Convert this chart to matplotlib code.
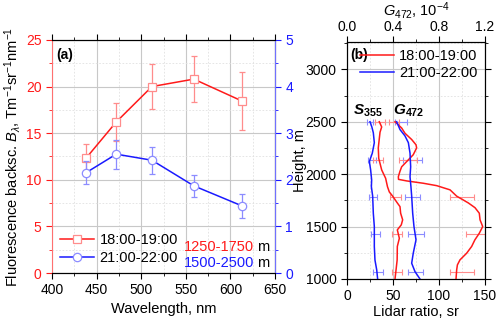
import numpy as np
import matplotlib.pyplot as plt
from matplotlib.ticker import MultipleLocator, FormatStrFormatter
from matplotlib.lines import Line2D

plt.rcParams['font.family'] = ['Liberation Sans', 'DejaVu Sans']
plt.rcParams['mathtext.fontset'] = 'custom'
plt.rcParams['mathtext.rm'] = 'Liberation Sans'
plt.rcParams['mathtext.it'] = 'Liberation Sans:italic'
plt.rcParams['mathtext.bf'] = 'Liberation Sans:bold'
plt.rcParams['mathtext.bfit'] = 'Liberation Sans:italic:bold'

RED = '#ff1a1a'
RED_L = '#ff8c8c'
BLUE = '#1a1aff'
BLUE_L = '#8c8cff'

# ---- panel (a): fluorescence backscatter vs wavelength ----
wl = [438, 472, 512, 559, 613]
b_evening = [12.3, 16.2, 20.0, 20.8, 18.45]      # 18:00-19:00, left axis
b_evening_err = [1.5, 2.0, 2.4, 2.5, 3.1]
b_night = [2.15, 2.55, 2.42, 1.87, 1.44]         # 21:00-22:00, right axis
b_night_err = [0.25, 0.31, 0.29, 0.23, 0.25]

# ---- panel (b): lidar ratio S355 and G472 profiles ----
h_s_night = [2500, 2450, 2395, 2300, 2200, 2120, 2040, 1945, 1880, 1790,
             1627, 1500, 1310, 1180, 1086, 1000]
s_night = [25, 27, 28.6, 29.7, 27.5, 24.3, 25.7, 26.8, 26.5, 27.9,
           28.6, 29.7, 29.7, 30.4, 32.3, 33.3]
h_s_even = [2500, 2450, 2400, 2330, 2250, 2150, 2040, 1960, 1880, 1830,
            1790, 1725, 1690, 1627, 1564, 1516, 1468, 1388, 1310, 1180,
            1086, 1000]
s_even = [35.1, 37.7, 35.9, 35.0, 34.0, 34.5, 37.7, 42.0, 44.0, 46.0,
          49.6, 54.7, 57.6, 58.3, 60.5, 59.0, 54.7, 56.9, 54.7, 54.5,
          53.3, 52.2]
h_g_night = [2500, 2425, 2365, 2300, 2200, 2070, 1975, 1880, 1790, 1627,
             1500, 1373, 1245, 1150, 1070, 1000]
g_night = [54, 57.6, 63, 66.7, 68.5, 69.2, 68.5, 69.5, 70.3, 71.4,
           72.8, 75, 72, 70.3, 73.9, 79.3]
h_g_even = [2500, 2440, 2390, 2330, 2280, 2250, 2185, 2120, 2070, 2025,
            1975, 1950, 1935, 1913, 1890, 1850, 1790, 1725, 1680, 1627,
            1564, 1500, 1436, 1373, 1310, 1245, 1182, 1134, 1086, 1000]
g_even = [52.2, 59.4, 63, 70.3, 75, 75.7, 72, 64.9, 59.4, 57.5,
          55.8, 56, 65, 82.9, 97.5, 112, 119.2, 131.9, 139.1, 143.8,
          144.6, 147.5, 143.8, 139, 135.5, 130, 122.8, 120, 119.2, 118.5]

h_err = [2500, 2135, 1785, 1430, 1070]
s_night_ec = [25, 27, 28.6, 31, 33.3]
s_night_e = [3.5, 4.5, 4.3, 4.9, 5.4]
s_even_ec = [35.9, 34, 52.5, 54.3, 54.3]
s_even_e = [5.4, 5.4, 5.8, 5.8, 5.8]
g_night_ec = [58.5, 71, 71, 75, 74.5]
g_night_e = [6.3, 10, 8, 8.5, 8.2]
g_even_ec = [51, 66, 125, 146, 125]
g_even_e = [5, 10, 13, 16.7, 12.7]

fig = plt.figure(figsize=(5.0, 3.21), dpi=100)
fs = 10

# ================= panel (a) =================
ax = fig.add_axes([0.104, 0.1495, 0.446, 0.726])
axr = ax.twinx()

ax.errorbar(wl, b_evening, yerr=b_evening_err, fmt='none', ecolor=RED_L,
            elinewidth=0.9, capsize=2.5, capthick=0.9, zorder=2)
ax.plot(wl, b_evening, '-', color=RED, lw=1.1, marker='s', ms=5.5,
        mfc='white', mec=RED_L, mew=0.9, zorder=3)
axr.errorbar(wl, b_night, yerr=b_night_err, fmt='none', ecolor=BLUE_L,
             elinewidth=0.9, capsize=2.5, capthick=0.9, zorder=2)
axr.plot(wl, b_night, '-', color=BLUE, lw=1.1, marker='o', ms=6,
         mfc='white', mec=BLUE_L, mew=0.9, zorder=3)

ax.set_xlim(400, 650)
ax.set_ylim(0, 25)
axr.set_ylim(0, 5)
ax.xaxis.set_major_locator(MultipleLocator(50))
ax.xaxis.set_minor_locator(MultipleLocator(25))
ax.yaxis.set_major_locator(MultipleLocator(5))
ax.yaxis.set_minor_locator(MultipleLocator(2.5))
axr.yaxis.set_major_locator(MultipleLocator(1))
axr.yaxis.set_minor_locator(MultipleLocator(0.5))

ax.grid(which='major', color='#c8c8c8', lw=0.8)
ax.grid(which='minor', color='#e0e0e0', lw=0.6, ls=(0, (2, 2)))
ax.set_axisbelow(True)

ax.tick_params(axis='x', which='both', top=True, labelsize=fs, direction='out')
ax.tick_params(axis='x', which='major', length=4)
ax.tick_params(axis='x', which='minor', length=2)
ax.tick_params(axis='y', which='both', colors=RED, labelsize=fs, direction='out')
ax.tick_params(axis='y', which='major', length=4)
ax.tick_params(axis='y', which='minor', length=2)
axr.tick_params(axis='y', which='both', colors=BLUE, labelsize=fs, direction='out')
axr.tick_params(axis='y', which='major', length=4)
axr.tick_params(axis='y', which='minor', length=2)
ax.spines['left'].set_color('#ff7070')
axr.spines['left'].set_visible(False)
axr.spines['right'].set_color('#7070ff')

ax.set_xlabel('Wavelength, nm', fontsize=fs + 0.5, labelpad=3)
ax.set_ylabel(r'Fluorescence backsc. $B_\lambda$, Tm$^{-1}$sr$^{-1}$nm$^{-1}$',
              fontsize=fs + 0.5, labelpad=2)
ax.text(0.02, 0.965, '(a)', transform=ax.transAxes, fontsize=fs,
        fontweight='bold', va='top', ha='left')

handles = [
    Line2D([], [], color=RED, lw=1.1, marker='s', ms=5.5, mfc='white',
           mec=RED_L, mew=0.9),
    Line2D([], [], color=BLUE, lw=1.1, marker='o', ms=6, mfc='white',
           mec=BLUE_L, mew=0.9),
]
ax.legend(handles, ['18:00-19:00', '21:00-22:00'], loc='lower left',
          frameon=False, fontsize=fs + 0.5, handlelength=2.3,
          handletextpad=0.4, borderaxespad=0.15, labelspacing=0.25)

ax.text(0.905, 0.112, '1250-1750', transform=ax.transAxes, color=RED,
        fontsize=fs + 0.5, ha='right', va='center')
ax.text(0.918, 0.112, 'm', transform=ax.transAxes, color='black',
        fontsize=fs + 0.5, ha='left', va='center')
ax.text(0.905, 0.043, '1500-2500', transform=ax.transAxes, color=BLUE,
        fontsize=fs + 0.5, ha='right', va='center')
ax.text(0.918, 0.043, 'm', transform=ax.transAxes, color='black',
        fontsize=fs + 0.5, ha='left', va='center')

# ================= panel (b) =================
bx = fig.add_axes([0.694, 0.131, 0.276, 0.738])

err_kw = dict(fmt='none', elinewidth=0.8, capsize=2, capthick=0.8, zorder=2)
bx.errorbar(s_night_ec, h_err, xerr=s_night_e, ecolor=BLUE_L, **err_kw)
bx.errorbar(s_even_ec, h_err, xerr=s_even_e, ecolor=RED_L, **err_kw)
bx.errorbar(g_night_ec, h_err, xerr=g_night_e, ecolor=BLUE_L, **err_kw)
bx.errorbar(g_even_ec, h_err, xerr=g_even_e, ecolor=RED_L, **err_kw)

bx.plot(s_even, h_s_even, color=RED, lw=1.1, zorder=3)
bx.plot(g_even, h_g_even, color=RED, lw=1.1, zorder=3)
bx.plot(s_night, h_s_night, color=BLUE, lw=1.1, zorder=4)
bx.plot(g_night, h_g_night, color=BLUE, lw=1.1, zorder=4)

bx.set_xlim(0, 150)
bx.set_ylim(1000, 3260)
bx.xaxis.set_major_locator(MultipleLocator(50))
bx.xaxis.set_minor_locator(MultipleLocator(25))
bx.yaxis.set_major_locator(MultipleLocator(500))
bx.yaxis.set_minor_locator(MultipleLocator(250))
bx.grid(which='major', color='#c8c8c8', lw=0.8)
bx.grid(which='minor', color='#e0e0e0', lw=0.6, ls=(0, (2, 2)))
bx.set_axisbelow(True)
bx.tick_params(axis='both', which='both', labelsize=fs)
bx.tick_params(axis='x', which='both', direction='out')
bx.tick_params(axis='y', which='both', direction='out', right=True)
bx.tick_params(axis='both', which='major', length=4)
bx.tick_params(axis='both', which='minor', length=2)
bx.set_xlabel('Lidar ratio, sr', fontsize=fs + 0.5, labelpad=1)
bx.set_ylabel('Height, m', fontsize=fs + 0.5)
bx.yaxis.set_label_coords(-0.29, 0.5)

bt = bx.twiny()
bt.set_xlim(0, 1.2)
bt.xaxis.set_major_locator(MultipleLocator(0.4))
bt.xaxis.set_minor_locator(MultipleLocator(0.2))
bt.xaxis.set_major_formatter(FormatStrFormatter('%.1f'))
bt.tick_params(axis='x', which='both', labelsize=fs, direction='out', pad=1.5)
bt.tick_params(axis='x', which='major', length=4)
bt.tick_params(axis='x', which='minor', length=2)
bt.set_xlabel(r'$G_{472}$, 10$^{-4}$', fontsize=fs + 0.5, labelpad=3.5)

bx.text(0.02, 0.975, '(b)', transform=bx.transAxes, fontsize=fs,
        fontweight='bold', va='top', ha='left')
bx.text(6, 2530, r'$\mathbfit{S}_{\mathbf{355}}$', fontsize=fs + 1,
        ha='left', va='bottom')
bx.text(50, 2530, r'$\mathbfit{G}_{\mathbf{472}}$', fontsize=fs + 1,
        ha='left', va='bottom')

lh = [Line2D([], [], color=RED, lw=1.1), Line2D([], [], color=BLUE, lw=1.1)]
bx.legend(lh, ['18:00-19:00', '21:00-22:00'], loc='upper right',
          frameon=False, fontsize=fs + 0.5, handlelength=2.3,
          handletextpad=0.4, borderaxespad=0.1, labelspacing=0.2)

fig.savefig('out.png', dpi=100)
